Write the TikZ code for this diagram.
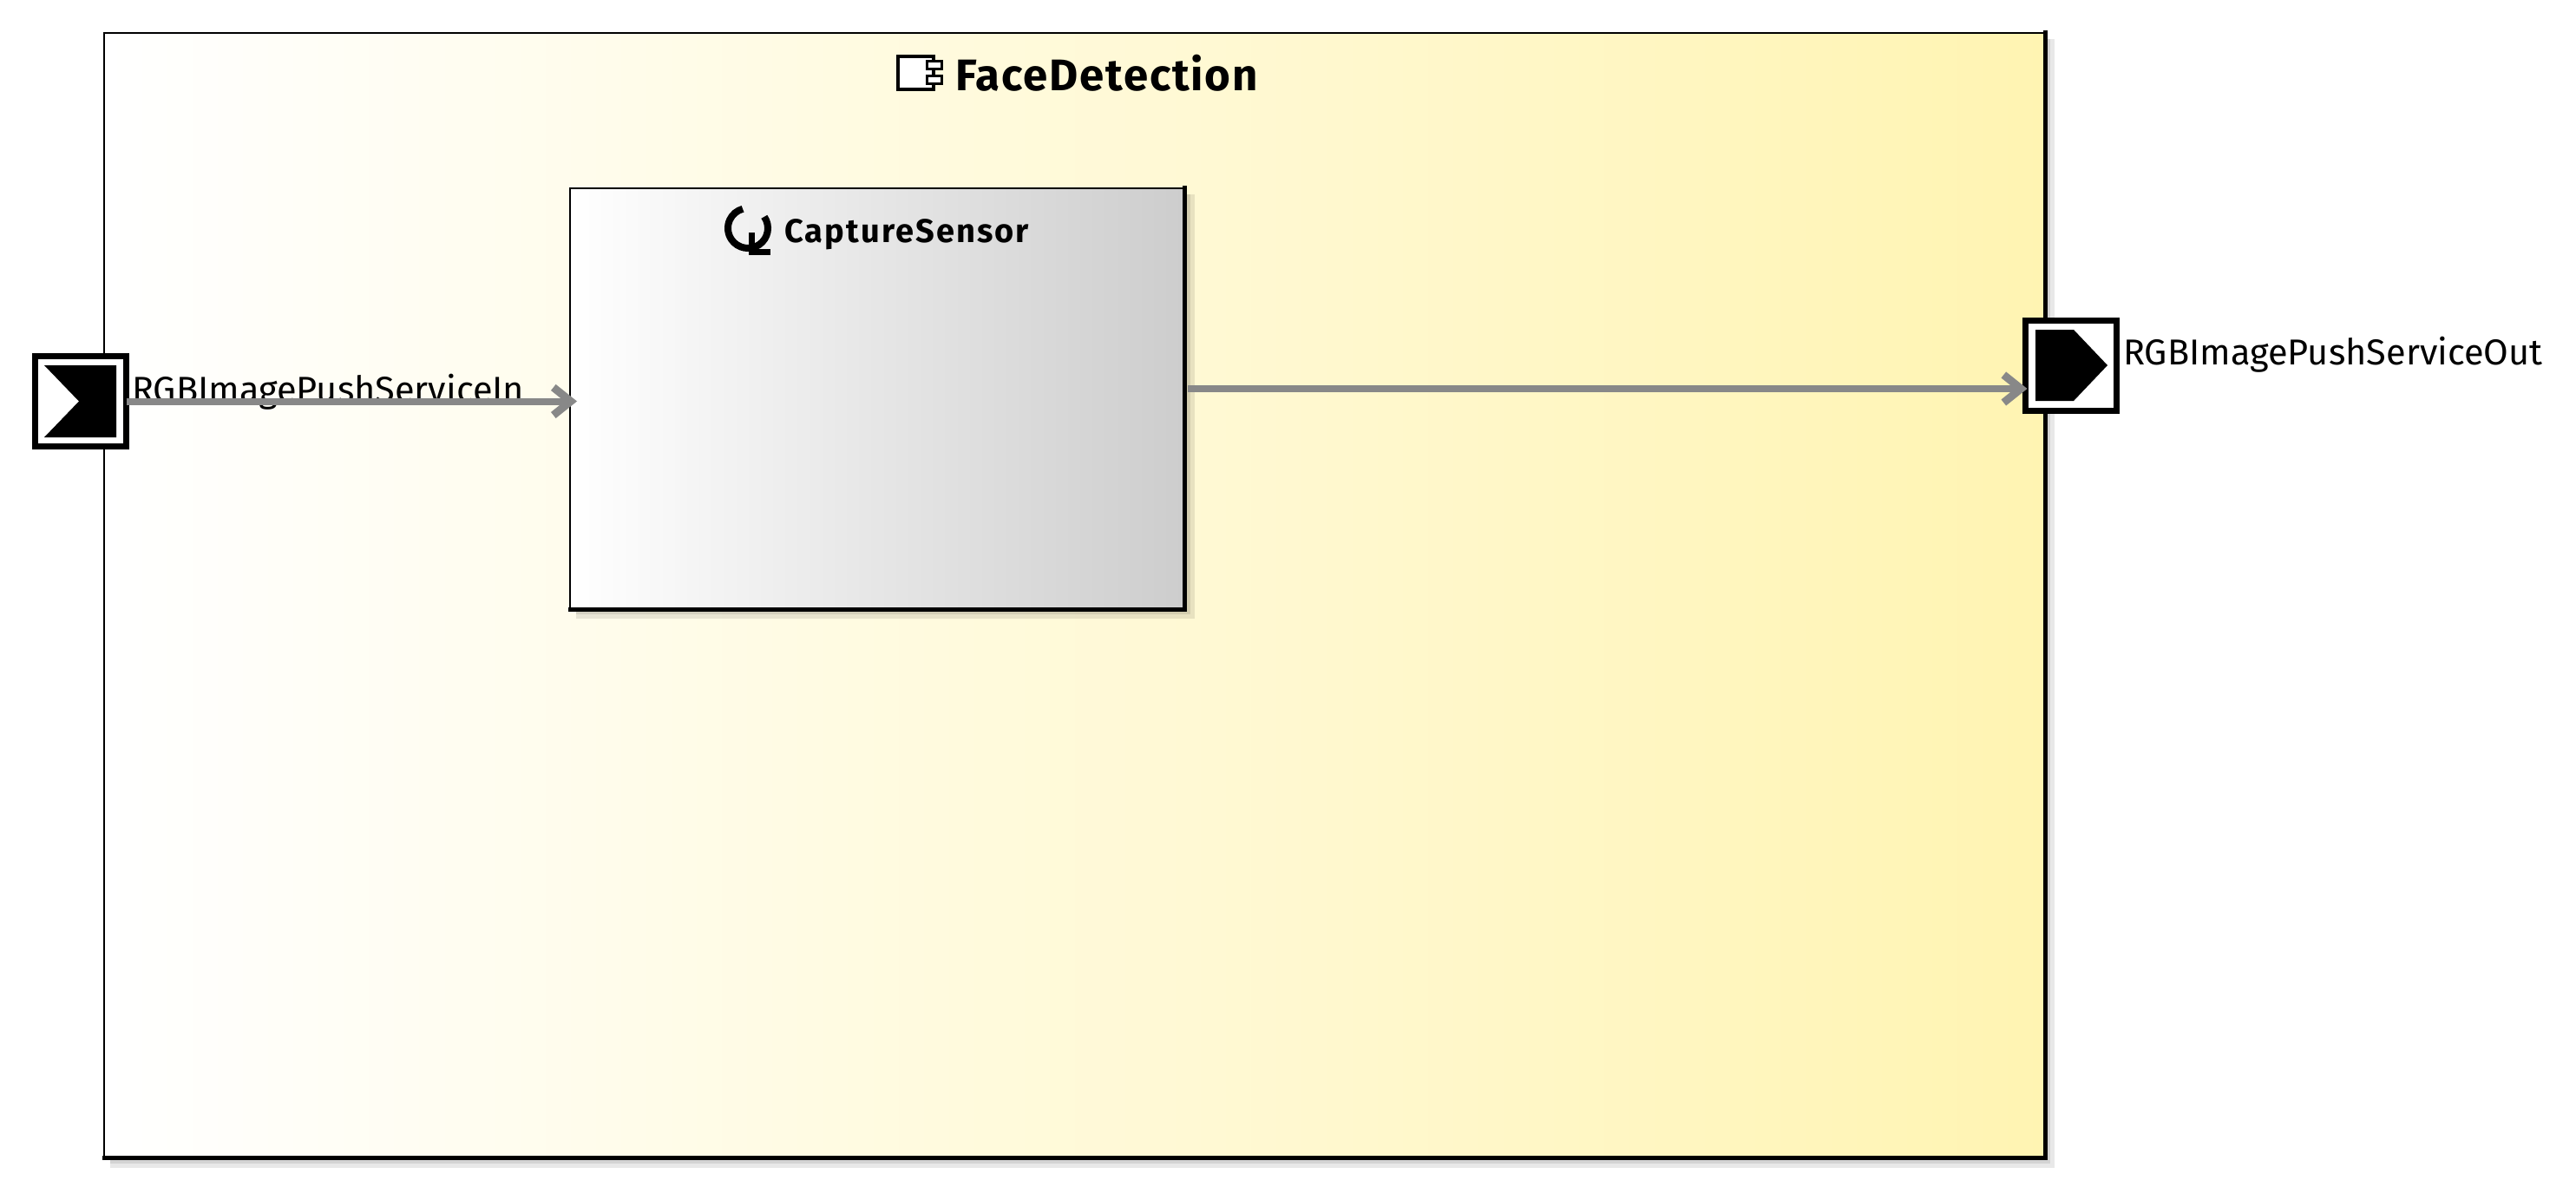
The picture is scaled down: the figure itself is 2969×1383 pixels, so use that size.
\documentclass[tikz,border=0pt]{standalone}
\usepackage{fontspec}
\setmainfont{Fira Sans}
\usetikzlibrary{arrows.meta,calc}
\tikzset{
  shadowbox/.style={fill=black,fill opacity=.09,draw=none},
  compbox/.style={anchor=north west,inner sep=0pt,outer sep=0pt,draw=black,line width=2pt,shading=axis,shading angle=90},
  portbox/.style={anchor=north west,inner sep=0pt,outer sep=0pt,draw=black,line width=7pt,fill=white,minimum width=105pt,minimum height=104pt},
  conn/.style={draw=connGray,line width=8pt,-{Straight Barb[length=20pt,width=32pt,line width=9pt]}},
  portlabel/.style={anchor=base west,inner sep=0pt,font=\fontsize{41.5}{41.5}\selectfont},
  titlelabel/.style={anchor=base west,inner sep=0pt,font=\fontsize{51}{51}\selectfont\bfseries\addfontfeatures{LetterSpace=3.5}},
  sublabel/.style={anchor=base west,inner sep=0pt,font=\fontsize{38}{38}\selectfont\bfseries\addfontfeatures{LetterSpace=5.5}},
}
\definecolor{connGray}{HTML}{888888}
\definecolor{yellowEnd}{HTML}{FFF4B2}
\definecolor{grayEnd}{HTML}{CDCDCD}
\begin{document}
\begin{tikzpicture}[x=1pt,y=-1pt]
\useasboundingbox (0,0) rectangle (2969,1383);
\fill[white] (0,0) rectangle (2969,1383);
% outer shadow
\fill[shadowbox] (127,45) rectangle (2368,1346);
\fill[shadowbox] (127,45) rectangle (2363,1341);
% outer component
\node[compbox,left color=white,right color=yellowEnd,minimum width=2237pt,minimum height=1296pt] (face) at (120,38) {};
\draw[line width=5pt,line cap=rect] (face.north east) -- (face.south east) -- (face.south west);
% inner shadow
\fill[shadowbox] (664,224) rectangle (1377,713);
\fill[shadowbox] (664,224) rectangle (1372,708);
% inner component
\node[compbox,left color=white,right color=grayEnd,minimum width=708pt,minimum height=485pt] (capture) at (657,217) {};
\draw[line width=5pt,line cap=rect] (capture.north east) -- (capture.south east) -- (capture.south west);
% titles
\node[titlelabel] (facetitle) at (1101,105) {FaceDetection};
\draw[line width=4pt,fill=white] (1035,65) rectangle (1076,103);
\draw[line width=3pt,fill=white] (1068,71) rectangle (1085,80);
\draw[line width=3pt,fill=white] (1068,88) rectangle (1085,97);
\node[sublabel] (capturetitle) at (904,279) {CaptureSensor};
\draw[line width=8pt] (862,263) ++(-35:23) arc[start angle=-35,end angle=255,radius=23];
\fill (863,268) rectangle (870,294);
\fill (863,287) rectangle (888,294);
% ports
\node[portbox] (portin) at (40.5,410.5) {};
\fill (51,421) -- (134,421) -- (134,504) -- (51,504) -- (91,462.5) -- cycle;
\node[portbox] (portout) at (2334.5,369.5) {};
\fill (2346,380) -- (2390,380) -- (2429,421) -- (2390,462) -- (2346,462) -- cycle;
% labels
\node[portlabel] (inlabel) at (152,463) {RGBImagePushServiceIn};
\node[portlabel] (outlabel) at (2447,420) {RGBImagePushServiceOut};
% connectors
\coordinate (outstart) at ($(capture.east)+(4,-11.5)$);
\draw[conn] (portin.east) -- ($(portin.east -| capture.west)+(8,0)$);
\draw[conn] (outstart) -- ($(outstart -| portout.west)+(2,0)$);
\end{tikzpicture}
\end{document}
